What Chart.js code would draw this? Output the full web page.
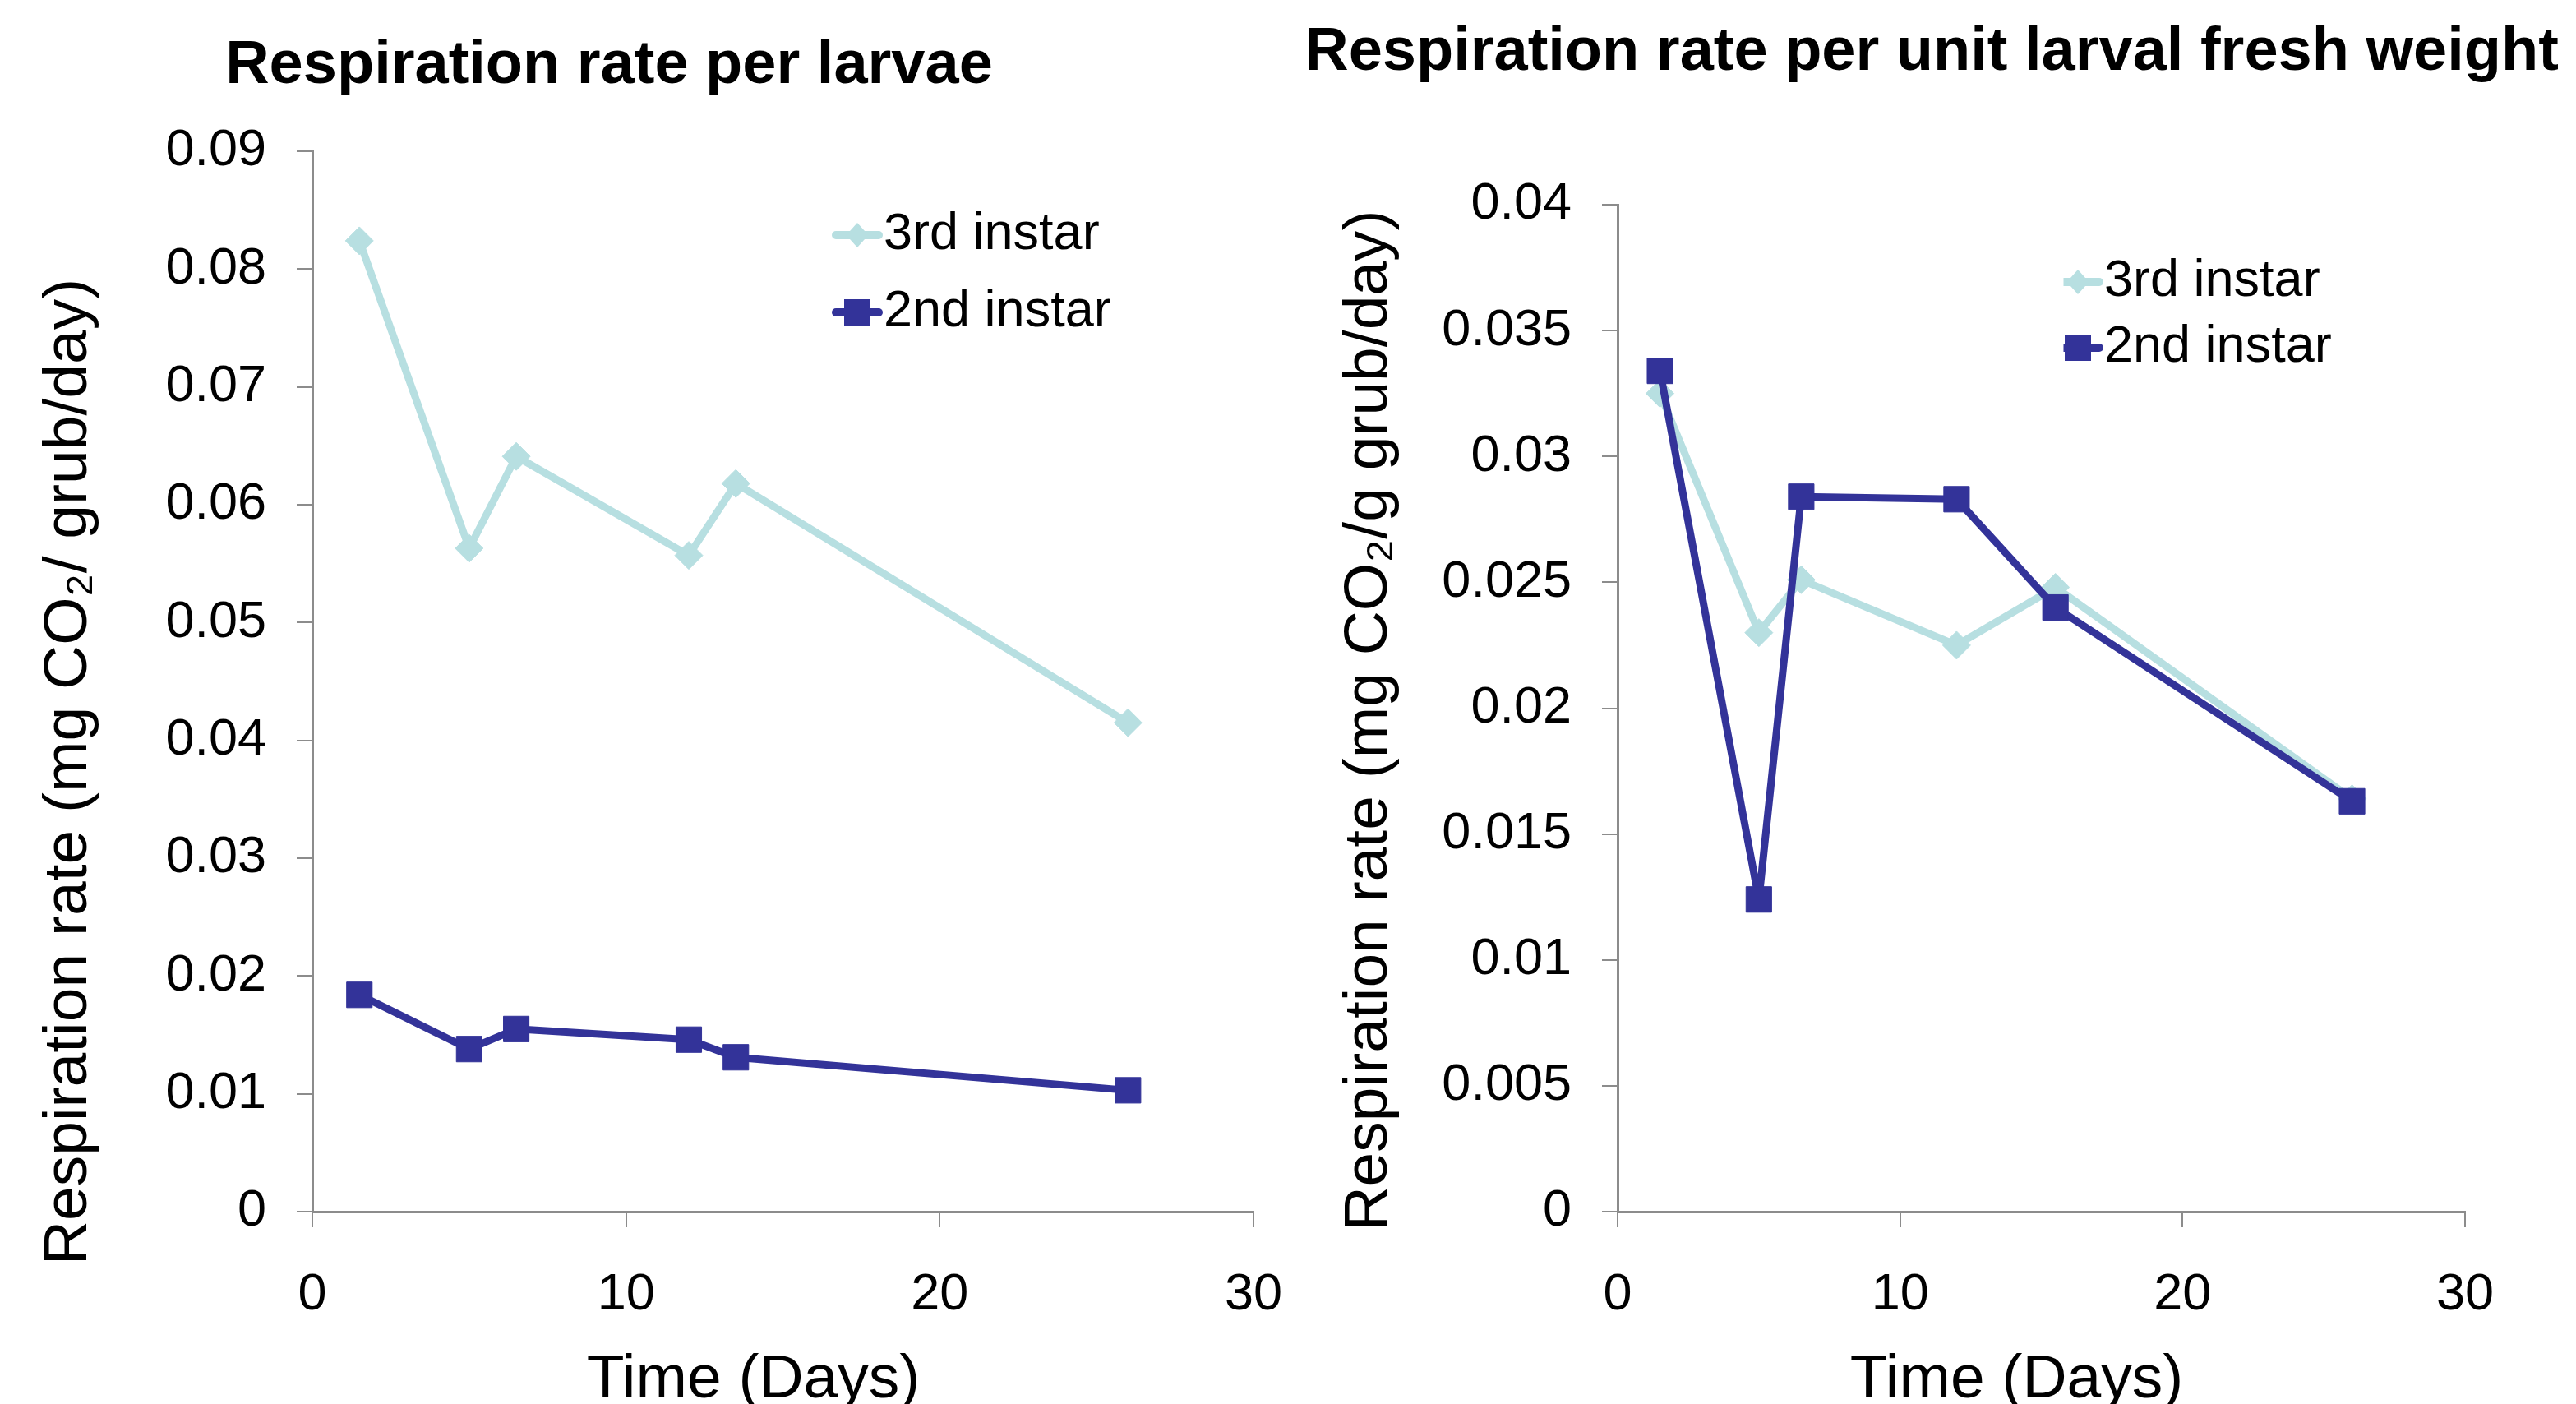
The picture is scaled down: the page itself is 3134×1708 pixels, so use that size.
<!DOCTYPE html>
<html>
<head>
<meta charset="utf-8">
<script src="https://cdn.jsdelivr.net/npm/chart.js@4.4.1/dist/chart.umd.min.js"></script>
<style>
html,body{margin:0;padding:0;background:#fff;width:3134px;height:1708px;overflow:hidden}
.box{position:absolute;top:0;height:1708px}
#b1{left:0;width:1567px}
#b2{left:1567px;width:1567px}
canvas{display:block}
</style>
</head>
<body>
<div class="box" id="b1"><canvas id="c1"></canvas></div>
<div class="box" id="b2"><canvas id="c2"></canvas></div>
<script>
// ---- data ----
const seriesNames = ['3rd instar', '2nd instar'];

const leftTitle = 'Respiration rate per larvae';
const leftYTitle = 'Respiration rate (mg CO\u2082/ grub/day)';
const leftDays = [1.5, 5, 6.5, 12, 13.5, 26];
const left3rd = [0.0824, 0.0563, 0.0641, 0.0557, 0.0618, 0.0415];
const left2nd = [0.0184, 0.0138, 0.0155, 0.0146, 0.0131, 0.0103];
const leftYTicks = [0, 0.01, 0.02, 0.03, 0.04, 0.05, 0.06, 0.07, 0.08, 0.09];
const leftYLabels = ['0', '0.01', '0.02', '0.03', '0.04', '0.05', '0.06', '0.07', '0.08', '0.09'];

const rightTitle = 'Respiration rate per unit larval fresh weight';
const rightYTitle = 'Respiration rate (mg CO\u2082/g grub/day)';
const rightDays = [1.5, 5, 6.5, 12, 15.5, 26];
const right3rd = [0.0325, 0.0230, 0.0251, 0.0225, 0.0248, 0.0164];
const right2nd = [0.0334, 0.0124, 0.0284, 0.0283, 0.0240, 0.0163];
const rightYTicks = [0, 0.005, 0.01, 0.015, 0.02, 0.025, 0.03, 0.035, 0.04];
const rightYLabels = ['0', '0.005', '0.01', '0.015', '0.02', '0.025', '0.03', '0.035', '0.04'];

const xTitle = 'Time (Days)';
const xTicks = [0, 10, 20, 30];
const xLabels = ['0', '10', '20', '30'];

// ---- styles ----
const COLOR3 = '#b7dfe1';
const COLOR2 = '#333399';
const AXIS = '#8c8c8c';
const FAMILY = '"Liberation Sans", Arial, Helvetica, sans-serif';

Chart.defaults.font.family = FAMILY;
Chart.defaults.color = '#000';

function legendIcon(color, shape) {
  const c = document.createElement('canvas');
  c.width = 62; c.height = 34;
  const g = c.getContext('2d');
  g.strokeStyle = color; g.lineWidth = 10; g.lineCap = 'round';
  g.beginPath(); g.moveTo(5, 17); g.lineTo(57, 17); g.stroke();
  g.fillStyle = color;
  if (shape === 'diamond') {
    g.beginPath(); g.moveTo(31, 2); g.lineTo(44.5, 17); g.lineTo(31, 32); g.lineTo(17.5, 17); g.closePath(); g.fill();
  } else {
    g.fillRect(15, 1, 32, 32);
  }
  return c;
}
const icon3 = legendIcon(COLOR3, 'diamond');
const icon2 = legendIcon(COLOR2, 'square');

function shiftTitle(scale, dx, dy) {
  if (!dx && !dy) return;
  const proto = Object.getPrototypeOf(scale);
  scale.drawTitle = function () {
    const c = this.ctx;
    c.save(); c.translate(dx, dy);
    proto.drawTitle.call(this);
    c.restore();
  };
}

const placeBlocks = {
  id: 'placeBlocks',
  afterLayout(chart, args, opts) {
    const lg = chart.legend;
    if (lg) {
      lg.left = opts.legendLeft; lg.top = opts.legendTop;
      lg.right = lg.left + lg.width; lg.bottom = lg.top + lg.height;
    }
    const tb = chart.titleBlock;
    if (tb) {
      tb.left = opts.titleCenter - opts.titleWidth / 2;
      tb.right = opts.titleCenter + opts.titleWidth / 2;
      tb.width = opts.titleWidth;
    }
    shiftTitle(chart.scales.x, opts.xTitleDx, opts.xTitleDy);
    shiftTitle(chart.scales.y, 0, opts.yTitleDy);
  }
};

function pts(xs, ys) { return xs.map((x, i) => ({ x: x, y: ys[i] })); }

function makeChart(id, g) {
  const ctx = document.getElementById(id);
  return new Chart(ctx, {
    type: 'line',
    data: {
      datasets: [
        {
          label: seriesNames[1], data: pts(g.days, g.s2),
          borderColor: COLOR2, backgroundColor: COLOR2, borderWidth: 9,
          pointStyle: 'rect', pointRadius: 22, pointHoverRadius: 22,
          pointBackgroundColor: COLOR2, pointBorderColor: COLOR2, pointBorderWidth: 1,
          borderJoinStyle: 'round', tension: 0, fill: false, legendIcon: icon2
        },
        {
          label: seriesNames[0], data: pts(g.days, g.s3),
          borderColor: COLOR3, backgroundColor: COLOR3, borderWidth: 9,
          pointStyle: 'rectRot', pointRadius: 17, pointHoverRadius: 17,
          pointBackgroundColor: COLOR3, pointBorderColor: COLOR3, pointBorderWidth: 1,
          borderJoinStyle: 'round', tension: 0, fill: false, legendIcon: icon3
        }
      ]
    },
    plugins: [placeBlocks],
    options: {
      responsive: true, maintainAspectRatio: false, animation: false, devicePixelRatio: 1,
      layout: { padding: { left: 0, right: g.padRight, top: 0, bottom: 0 } },
      plugins: {
        tooltip: { enabled: false },
        title: {
          display: true, text: g.title, color: '#000',
          font: { size: 74, weight: 'bold', family: FAMILY, lineHeight: 1.2 },
          padding: { top: g.titlePadTop, bottom: g.titlePadBottom }
        },
        legend: {
          display: true, position: 'chartArea', align: 'start', reverse: true,
          labels: {
            usePointStyle: true, pointStyleWidth: 1, padding: g.legendPad, color: '#000',
            font: { size: 63, family: FAMILY },
            generateLabels: (chart) => {
              const items = Chart.defaults.plugins.legend.labels.generateLabels(chart);
              items.forEach(it => {
                it.pointStyle = chart.data.datasets[it.datasetIndex].legendIcon;
                it.fontColor = '#000';
              });
              return items;
            }
          }
        },
        placeBlocks: {
          legendLeft: g.legendLeft, legendTop: g.legendTop,
          titleCenter: g.titleCenter, titleWidth: 1600,
          xTitleDx: g.xTitleDx, xTitleDy: 4, yTitleDy: g.yTitleDy
        }
      },
      scales: {
        x: {
          type: 'linear', min: 0, max: 30,
          afterBuildTicks: (s) => { s.ticks = xTicks.map(v => ({ value: v })); },
          afterFit: (s) => { s.height = 234; s.paddingRight = 0; s.paddingLeft = 0; },
          ticks: {
            padding: 45, font: { size: 63, family: FAMILY }, color: '#000',
            callback: (v) => xLabels[xTicks.indexOf(v)] ?? String(v)
          },
          grid: { display: true, drawOnChartArea: false, drawTicks: true, tickLength: 19, color: AXIS, lineWidth: 2 },
          border: { display: true, color: AXIS, width: 3 },
          title: {
            display: true, text: xTitle, color: '#000',
            font: { size: 75, family: FAMILY, lineHeight: 0.88 }, padding: { top: 0, bottom: 0 }
          }
        },
        y: {
          type: 'linear', min: 0, max: g.yMax,
          afterBuildTicks: (s) => { s.ticks = g.yTicks.map(v => ({ value: v })); },
          afterFit: (s) => { s.width = g.yWidth; },
          ticks: {
            padding: 37, font: { size: 63, family: FAMILY }, color: '#000',
            callback: (v) => { const i = g.yTicks.findIndex(t => Math.abs(t - v) < 1e-9); return i >= 0 ? g.yLabels[i] : String(v); }
          },
          grid: { display: true, drawOnChartArea: false, drawTicks: true, tickLength: 19, color: AXIS, lineWidth: 2 },
          border: { display: true, color: AXIS, width: 3 },
          title: {
            display: true, text: g.yTitle, color: '#000',
            font: { size: 75, family: FAMILY, lineHeight: 1 }, padding: { top: g.yTitlePad, bottom: 0 }
          }
        }
      }
    }
  });
}

makeChart('c1', {
  title: leftTitle, yTitle: leftYTitle, days: leftDays, s3: left3rd, s2: left2nd,
  yTicks: leftYTicks, yLabels: leftYLabels, yMax: 0.09,
  padRight: 42, yWidth: 380, yTitlePad: 47, yTitleDy: 110, xTitleDx: -36,
  titlePadTop: 36, titlePadBottom: 59.2, titleCenter: 741,
  legendLeft: 1011.5, legendTop: 223.5, legendPad: 31
});

makeChart('c2', {
  title: rightTitle, yTitle: rightYTitle, days: rightDays, s3: right3rd, s2: right2nd,
  yTicks: rightYTicks, yLabels: rightYLabels, yMax: 0.04,
  padRight: 135, yWidth: 401, yTitlePad: 62, yTitleDy: 15, xTitleDx: -30,
  titlePadTop: 20, titlePadBottom: 140.2, titleCenter: 783,
  legendLeft: 943.5, legendTop: 294.5, legendPad: 17
});
</script>
</body>
</html>
